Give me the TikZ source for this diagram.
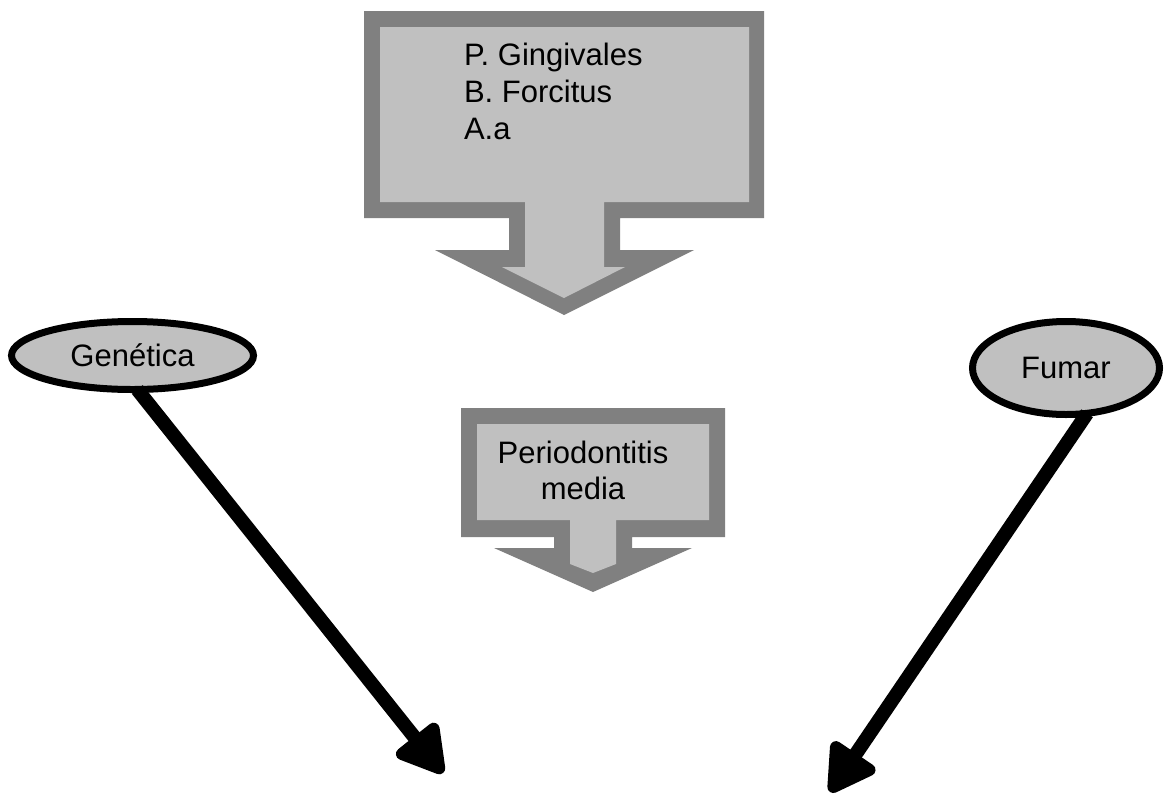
\documentclass[tikz,border=0pt]{standalone}
\usepackage{fontspec}
\setmainfont{Liberation Sans}
\usetikzlibrary{shapes.geometric,arrows.meta}
\definecolor{dgray}{HTML}{808080}
\definecolor{lgray}{HTML}{C0C0C0}
\begin{document}
\begin{tikzpicture}[x=1pt,y=-1pt,
  oval/.style={ellipse,draw=black,fill=lgray,line width=7pt,inner sep=0pt,outer sep=0pt,font=\fontsize{31}{37}\selectfont},
  lbl/.style={inner sep=0pt,outer sep=0pt,font=\fontsize{31}{37}\selectfont},
  outerfill/.style={fill=dgray},
  innerfill/.style={fill=lgray},
  bigarrow/.style={line width=14pt,-{Triangle[length=53pt,width=58pt,round,line width=12pt]}}]
\useasboundingbox (0,0) rectangle (1165,793);

% top callout
\fill[outerfill] (364,11) -- (764,11) -- (764,218) -- (620,218) -- (620,250) -- (694,250) -- (564,315) -- (435,250) -- (509,250) -- (509,218) -- (364,218) -- cycle;
\fill[innerfill] (380,27) -- (749,27) -- (749,202) -- (604,202) -- (604,267) -- (625,267) -- (564,298) -- (502,267) -- (525,267) -- (525,202) -- (380,202) -- cycle;
\node[lbl,anchor=base west] (t1) at (464,65) {P. Gingivales};
\node[lbl,anchor=base west] (t2) at (464,102) {B. Forcitus};
\node[lbl,anchor=base west] (t3) at (464,139) {A.a};

% middle callout
\fill[outerfill] (461,408) -- (725,408) -- (725,537) -- (632,537) -- (632,548) -- (692,548) -- (593,592) -- (494,548) -- (554,548) -- (554,537) -- (461,537) -- cycle;
\fill[innerfill] (477,424) -- (709,424) -- (709,520) -- (616,520) -- (616,564) -- (593,573) -- (570,564) -- (570,520) -- (477,520) -- cycle;
\node[lbl,anchor=base] (p1) at (583,463) {Periodontitis};
\node[lbl,anchor=base] (p2) at (583,499) {media};

% ellipses
\node[oval,minimum width=242pt,minimum height=68pt] (gen) at (132.5,355.5) {Genética};
\node[oval,minimum width=187pt,minimum height=93pt] (fum) at (1066,368) {Fumar};

% arrows
\coordinate (tipL) at (443,773);
\coordinate (tipR) at (830,792);
\draw[bigarrow] (gen.-82) -- (tipL);
\draw[bigarrow] (fum.-65) -- (tipR);
\end{tikzpicture}
\end{document}
